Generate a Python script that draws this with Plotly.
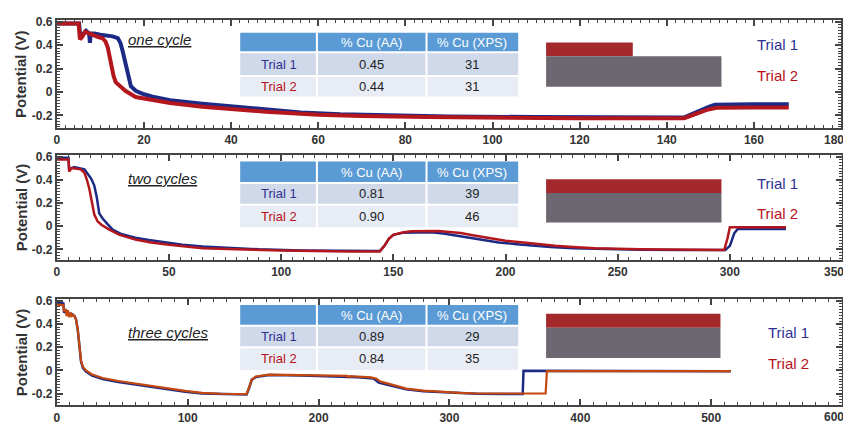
import plotly.graph_objects as go

# ---------------- data ----------------
# Panel 1: one cycle
p1_t1_x = [0, 5.1, 5.4, 6.0, 6.7, 7.4, 7.6, 7.8, 8.6, 10, 12.8, 14, 14.6, 15.1, 15.6, 16.2, 17, 18.1, 20, 22, 26, 33.4, 40, 48, 56, 65, 75, 90, 110, 130, 144, 145.5, 147.5, 149.5, 151, 155, 160, 168]
p1_t1_y = [0.585, 0.585, 0.47, 0.49, 0.524, 0.5, 0.42, 0.5, 0.5, 0.49, 0.476, 0.46, 0.42, 0.35, 0.27, 0.18, 0.05, 0.01, -0.02, -0.04, -0.07, -0.1, -0.123, -0.15, -0.175, -0.19, -0.2, -0.21, -0.215, -0.218, -0.218, -0.195, -0.16, -0.13, -0.11, -0.105, -0.105, -0.105]
p1_t2_x = [0, 5.0, 5.3, 5.8, 6.5, 8, 9.5, 10.5, 11.2, 11.7, 12.1, 12.5, 13.0, 13.5, 14.4, 15.8, 18.1, 22, 26, 33.4, 40, 48, 60, 70, 85, 100, 120, 144, 145.5, 147.5, 149.5, 151.5, 155, 160, 168]
p1_t2_y = [0.585, 0.585, 0.45, 0.47, 0.515, 0.49, 0.47, 0.46, 0.43, 0.38, 0.3, 0.21, 0.14, 0.084, 0.05, 0.008, -0.043, -0.071, -0.095, -0.127, -0.148, -0.17, -0.195, -0.207, -0.215, -0.222, -0.225, -0.225, -0.205, -0.175, -0.15, -0.135, -0.132, -0.133, -0.133]

# Panel 2: two cycles
p2_t1_x = [0, 5.2, 5.5, 6.5, 7.8, 10, 12.3, 13.8, 15.3, 16.7, 17.8, 18.9, 20.4, 22.5, 24.9, 29, 35, 41, 48, 56, 65, 77, 90, 109, 130, 144, 146, 148, 150, 154, 160, 168, 173, 178, 184, 190, 197, 205, 212, 220, 230, 240, 260, 280, 298, 300, 302, 303.5, 310, 325]
p2_t1_y = [0.59, 0.59, 0.48, 0.5, 0.51, 0.5, 0.49, 0.45, 0.41, 0.35, 0.25, 0.11, 0.066, 0.02, -0.03, -0.07, -0.10, -0.12, -0.14, -0.16, -0.175, -0.19, -0.2, -0.21, -0.215, -0.215, -0.17, -0.11, -0.075, -0.058, -0.055, -0.055, -0.065, -0.08, -0.1, -0.12, -0.14, -0.155, -0.168, -0.18, -0.19, -0.196, -0.203, -0.205, -0.205, -0.17, -0.06, -0.024, -0.024, -0.024]
p2_t2_x = [0, 5.2, 5.5, 6.3, 7.5, 10.6, 12.3, 13.4, 14.5, 15.6, 16.7, 18.2, 20, 23.4, 28, 35, 42, 50, 65, 80, 100, 130, 144, 146, 148, 150, 154, 158, 165, 170, 175, 180, 186, 192, 200, 208, 215, 222, 230, 240, 260, 280, 297.5, 299, 300, 310, 325]
p2_t2_y = [0.575, 0.575, 0.47, 0.495, 0.5, 0.49, 0.46, 0.4, 0.32, 0.2, 0.1, 0.04, 0.01, -0.03, -0.075, -0.115, -0.14, -0.16, -0.19, -0.2, -0.21, -0.218, -0.218, -0.17, -0.11, -0.075, -0.055, -0.045, -0.04, -0.042, -0.05, -0.06, -0.08, -0.1, -0.125, -0.14, -0.155, -0.17, -0.18, -0.19, -0.2, -0.203, -0.205, -0.1, -0.01, -0.01, -0.01]

# Panel 3: three cycles
p3_t1_x = [0, 5, 5.5, 7, 9, 11, 13.5, 14.7, 16, 17.3, 18.5, 20, 22.3, 27, 35, 47, 60, 73, 86, 98, 111, 125, 145, 147, 149, 152, 162, 187, 210, 230, 242, 246, 255, 267, 280, 294, 308, 321, 340, 356, 356.6, 365, 374, 400, 515]
p3_t1_y = [0.585, 0.58, 0.5, 0.52, 0.48, 0.49, 0.47, 0.44, 0.35, 0.22, 0.075, 0.02, -0.01, -0.045, -0.075, -0.1, -0.122, -0.145, -0.165, -0.184, -0.2, -0.206, -0.208, -0.15, -0.08, -0.058, -0.04, -0.045, -0.05, -0.06, -0.07, -0.105, -0.13, -0.163, -0.18, -0.19, -0.198, -0.203, -0.204, -0.204, -0.003, -0.003, -0.005, -0.006, -0.007]
p3_t2_x = [0, 5, 5.5, 6.5, 7.5, 8.5, 9.5, 10.5, 11.5, 12.5, 13.5, 14.7, 16, 17.3, 18.5, 20, 22.3, 27, 35, 47, 60, 73, 86, 98, 111, 125, 145, 147, 149, 152, 162, 187, 210, 222, 223, 224, 240, 244, 247, 255, 267, 280, 294, 308, 321, 340, 373.5, 374.5, 400, 515]
p3_t2_y = [0.57, 0.565, 0.51, 0.53, 0.47, 0.52, 0.46, 0.5, 0.47, 0.48, 0.47, 0.44, 0.35, 0.225, 0.083, 0.03, 0.0, -0.035, -0.066, -0.092, -0.115, -0.137, -0.157, -0.177, -0.194, -0.202, -0.206, -0.15, -0.08, -0.053, -0.036, -0.04, -0.045, -0.048, -0.06, -0.05, -0.06, -0.07, -0.095, -0.12, -0.157, -0.175, -0.186, -0.195, -0.2, -0.2, -0.2, -0.005, -0.006, -0.007]

panel_labels = ["one cycle", "two cycles", "three cycles"]
trial_names = ["Trial 1", "Trial 2"]
table_header = ["", "% Cu (AA)", "% Cu (XPS)"]
p1_aa = ["0.45", "0.44"]
p1_xps = ["31", "31"]
p2_aa = ["0.81", "0.90"]
p2_xps = ["39", "46"]
p3_aa = ["0.89", "0.84"]
p3_xps = ["29", "35"]
x_max = [180, 350, 600]
x_major = [20, 50, 100]
x_minor = [2, 5, 10]
y_tick_vals = [-0.2, 0, 0.2, 0.4, 0.6]
y_tick_text = ["-0.2", "0", "0.2", "0.4", "0.6"]
y_title = "Potential (V)"

# ---------------- layout helpers ----------------
# page body has an 8px margin, so the figure is drawn 8px right/down
OFF = 8
W, H = 851 - OFF, 425 - OFF
def px(x):
    return (x - OFF) / W
def py(y):
    return 1 - (y - OFF) / H

FONT = "Liberation Sans, Arial, sans-serif"
BLUE = "#1c2a86"
RED = "#b3161c"
ORANGE = "#c4470f"
TXT_BLUE = "#2e3192"
TXT_RED = "#b5121b"
AXC = "#444444"
TICKFONT = dict(family=FONT, size=12, color="#333333", weight="bold")

# plot areas (screen pixels): x0, x1, ytop, ybottom, yrange
areas = [
    (54, 841, 15, 125, [-0.309, 0.617]),
    (54, 842, 152, 259, [-0.29, 0.617]),
    (54, 842, 299, 407, [-0.302, 0.617]),
]
series = [
    [(p1_t1_x, p1_t1_y, BLUE, 4), (p1_t2_x, p1_t2_y, RED, 4)],
    [(p2_t1_x, p2_t1_y, BLUE, 2.5), (p2_t2_x, p2_t2_y, RED, 2.5)],
    [(p3_t1_x, p3_t1_y, BLUE, 2.5), (p3_t2_x, p3_t2_y, ORANGE, 2.2)],
]
tables = [
    (p1_aa, p1_xps, [28, 48, 72, 93]),
    (p2_aa, p2_xps, [159, 181, 203, 226]),
    (p3_aa, p3_xps, [305, 326, 348, 371]),
]
cols = [238, 315, 425, 517]
row_colors = ["#5b9bd5", "#cfd9ea", "#e8ecf4"]
schem = [
    (545, 632, 38, 52, 721, 83, 755, 40, 72, 35),
    (545, 721, 177, 191, 721, 221, 755, 181, 212, 176),
    (545, 720, 314, 328, 720, 359, 766, 333, 364, 333),
]

fig = go.Figure()
layout = dict(
    width=W, height=H, margin=dict(l=0, r=0, t=0, b=0),
    paper_bgcolor="white", plot_bgcolor="white", showlegend=False,
    font=dict(family=FONT),
)
shapes = []
annotations = []

for i in range(3):
    x0, x1, yt, yb, yr = areas[i]
    n = "" if i == 0 else str(i + 1)
    for (xs, ys, c, w) in series[i]:
        fig.add_trace(go.Scatter(x=xs, y=ys, mode="lines", line=dict(color=c, width=w),
                                 xaxis="x" + n, yaxis="y" + n, hoverinfo="skip"))
    xt = list(range(0, x_max[i], x_major[i]))
    layout["xaxis" + n] = dict(
        domain=[px(x0), px(x1)], anchor="y" + n, range=[0, x_max[i]],
        showgrid=False, zeroline=False, showline=True, linecolor=AXC, linewidth=2,
        mirror="allticks", ticks="inside", ticklen=6, tickwidth=1.5, tickcolor=AXC,
        tickvals=xt, ticktext=[str(v) for v in xt],
        minor=dict(ticks="inside", ticklen=3, tickwidth=1, tickcolor=AXC, dtick=x_minor[i], tick0=0, showgrid=False),
        tickfont=TICKFONT,
    )
    # last x label drawn right-aligned so it stays inside the page
    annotations.append(dict(text=str(x_max[i]), x=px(845), y=py(yb + 12), xref="paper", yref="paper",
                            showarrow=False, xanchor="right", yanchor="middle", font=TICKFONT, borderpad=0))
    layout["yaxis" + n] = dict(
        domain=[py(yb), py(yt)], anchor="x" + n, range=yr,
        showgrid=False, zeroline=False, showline=True, linecolor=AXC, linewidth=2,
        mirror="allticks", ticks="inside", ticklen=6, tickwidth=1.5, tickcolor=AXC,
        tickvals=y_tick_vals, ticktext=y_tick_text,
        minor=dict(ticks="inside", ticklen=3, tickwidth=1, tickcolor=AXC, dtick=0.025, tick0=0, showgrid=False),
        tickfont=TICKFONT,
    )
    # y title
    annotations.append(dict(text=y_title, x=px(18), y=py((yt + yb) / 2), xref="paper", yref="paper",
                            textangle=-90, showarrow=False, xanchor="center", yanchor="middle",
                            font=dict(family=FONT, size=15, color="#333333", weight="bold")))
    # table
    aa, xps, rows = tables[i]
    cells = [table_header, [trial_names[0], aa[0], xps[0]], [trial_names[1], aa[1], xps[1]]]
    for r in range(3):
        for c in range(3):
            shapes.append(dict(type="rect", xref="paper", yref="paper",
                               x0=px(cols[c] + (1 if c > 0 else 0)), x1=px(cols[c + 1] - (1 if c < 2 else 0)),
                               y0=py(rows[r + 1] - (1 if r < 2 else 0)), y1=py(rows[r] + (1 if r > 0 else 0)),
                               fillcolor=row_colors[r], line=dict(width=0), layer="above"))
            txt = cells[r][c]
            if not txt:
                continue
            if r == 0:
                col = "white"
            elif c == 0:
                col = TXT_BLUE if r == 1 else TXT_RED
            else:
                col = "#222222"
            annotations.append(dict(text=txt, x=px((cols[c] + cols[c + 1]) / 2), y=py((rows[r] + rows[r + 1]) / 2),
                                    xref="paper", yref="paper", showarrow=False, xanchor="center", yanchor="middle",
                                    font=dict(family=FONT, size=13, color=col)))
    # schematic
    rx0, rx1, ry0, ry1, gx1, gy1, tx, t1y, t2y, ly = schem[i]
    shapes.append(dict(type="rect", xref="paper", yref="paper", x0=px(rx0), x1=px(rx1), y0=py(ry1), y1=py(ry0),
                       fillcolor="#a3292d", line=dict(width=0), layer="above"))
    shapes.append(dict(type="rect", xref="paper", yref="paper", x0=px(rx0), x1=px(gx1), y0=py(gy1), y1=py(ry1),
                       fillcolor="#6d6771", line=dict(width=0), layer="above"))
    annotations.append(dict(text=trial_names[0], x=px(tx), y=py(t1y), xref="paper", yref="paper", showarrow=False,
                            xanchor="left", yanchor="middle", font=dict(family=FONT, size=15, color=TXT_BLUE)))
    annotations.append(dict(text=trial_names[1], x=px(tx), y=py(t2y), xref="paper", yref="paper", showarrow=False,
                            xanchor="left", yanchor="middle", font=dict(family=FONT, size=15, color=TXT_RED)))
    annotations.append(dict(text="<i><u>" + panel_labels[i] + "</u></i>", x=px(123), y=py(ly), xref="paper",
                            yref="paper", showarrow=False, xanchor="left", yanchor="middle",
                            font=dict(family=FONT, size=15, color="#222222")))

layout["shapes"] = shapes
layout["annotations"] = annotations
fig.update_layout(**layout)
fig.write_html("out.html")
